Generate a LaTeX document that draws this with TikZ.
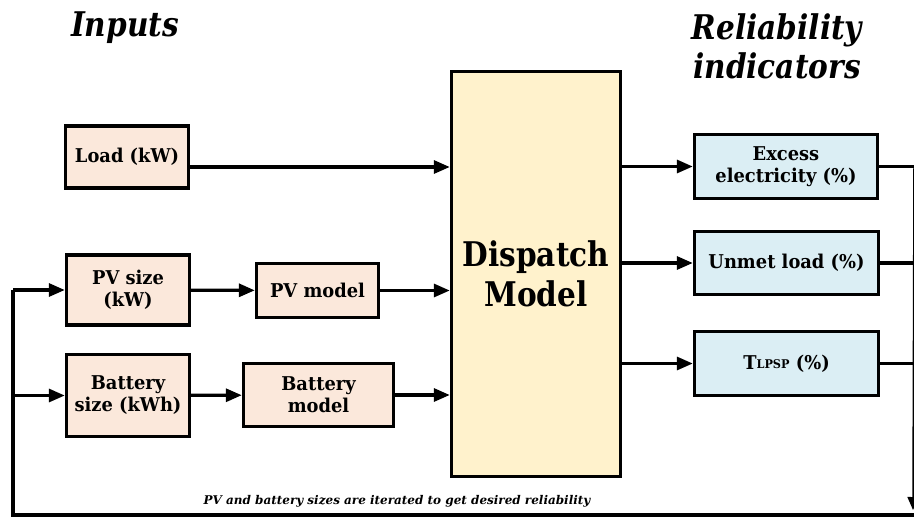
\documentclass[tikz,border=0pt]{standalone}
\usepackage{fontspec}
\setmainfont{DejaVu Serif}
\newfontfamily\narrowserif[FakeStretch=0.87]{DejaVu Serif}
\newfontfamily\boxserif[FakeStretch=0.94]{DejaVu Serif}
\usetikzlibrary{arrows.meta}
\definecolor{inputfill}{HTML}{FBE8DB}
\definecolor{dispfill}{HTML}{FFF2CC}
\definecolor{outfill}{HTML}{DBEEF4}
\begin{document}
\begin{tikzpicture}[x=1pt,y=-1pt,
  box/.style={draw, line width=3.4pt, font=\boxserif\bfseries\fontsize{19}{22}\selectfont, align=center, inner sep=0pt},
  inbox/.style={box, fill=inputfill},
  outbox/.style={box, fill=outfill},
  arr/.style={line width=3.2pt, -{Triangle[length=16pt,width=13pt]}},
  ln/.style={line width=3.2pt},
  title/.style={font=\narrowserif\bfseries\itshape\fontsize{34}{39}\selectfont, align=center}
]
\useasboundingbox (0,0) rectangle (914,517);

\node[title] (tin) at (125,28) {Inputs};
\node[title] (tout) at (777,46) {Reliability\\indicators};

\node[inbox, minimum width=123pt, minimum height=62pt] (load) at (127,157) {Load (kW)};
\node[inbox, minimum width=123pt, minimum height=70pt] (pvs) at (128,290) {PV size\\(kW)};
\node[inbox, minimum width=122pt, minimum height=54pt] (pvm) at (317.5,290.5) {PV model};
\node[inbox, minimum width=123pt, minimum height=82pt] (bs) at (128,395.5) {Battery\\size (kWh)};
\node[inbox, minimum width=150pt, minimum height=63pt] (bm) at (318.5,395) {Battery\\model};

\node[box, fill=dispfill, minimum width=169pt, minimum height=405pt,
      font=\narrowserif\bfseries\fontsize{34}{40}\selectfont] (disp) at (536,274) {Dispatch\\Model};

\node[outbox, minimum width=183pt, minimum height=64pt] (exc) at (786,166.5) {Excess\\electricity (\%)};
\node[outbox, minimum width=184pt, minimum height=63pt] (unm) at (786.5,263) {Unmet load (\%)};
\node[outbox, minimum width=184pt, minimum height=64pt] (tl) at (786.5,363.5) {T\raisebox{0.1ex}{\fontsize{12}{12}\selectfont LPSP} (\%)};

\coordinate (loadout) at ([yshift=-10pt]load.east);
\draw[arr] (loadout) -- (loadout -| disp.west);
\draw[arr] (pvs) -- (pvm);
\draw[arr] (pvm) -- (pvm -| disp.west);
\draw[arr] (bs) -- (bm);
\draw[arr] (bm) -- (bm -| disp.west);

\draw[arr] (exc.west -| disp.east) -- (exc.west);
\draw[arr] (unm.west -| disp.east) -- (unm.west);
\draw[arr] (tl.west -| disp.east) -- (tl.west);

\coordinate (R1) at (914,166.5);
\coordinate (Rend) at (913,510);
\coordinate (Lt) at (13,290);
\coordinate (Lb) at (13,515);
\coordinate (Rb) at (916,515);

\draw[ln] (exc.east) -- (exc.east -| R1);
\draw[ln] (unm.east) -- (unm.east -| R1);
\draw[ln] (tl.east) -- (tl.east -| R1);
\draw[line width=1.5pt, -{Triangle[length=13pt,width=11pt]}] (914,166.5) -- (Rend);

\draw[ln] (Lt) -- (Lb) -- (Rb);
\draw[arr] (Lt) -- (pvs.west);
\draw[arr] (Lt |- bs.west) -- (bs.west);

\node[font=\bfseries\itshape\fontsize{12}{14}\selectfont, anchor=south] (note) at (397,511)
  {PV and battery sizes are iterated to get desired reliability};
\end{tikzpicture}
\end{document}
